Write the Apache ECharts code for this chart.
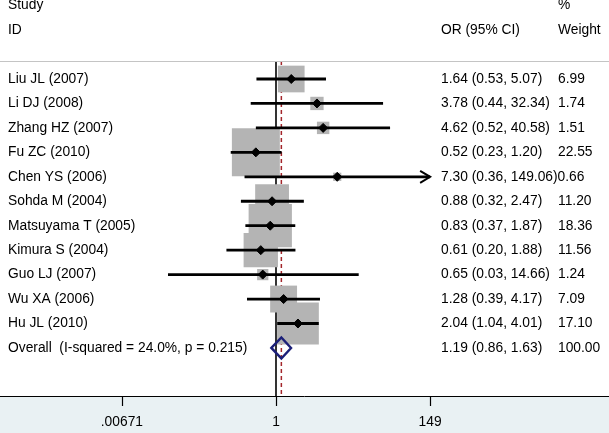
<!DOCTYPE html>
<html>
<head>
<meta charset="utf-8">
<script src="https://cdn.jsdelivr.net/npm/echarts@6/dist/echarts.min.js"></script>
<style>html,body{margin:0;padding:0;background:#fff}#c{width:609px;height:433px}</style>
</head>
<body>
<div id="c"></div>
<script>
// ---- data ----
const studies = ['Liu JL (2007)','Li DJ (2008)','Zhang HZ (2007)','Fu ZC (2010)','Chen YS (2006)','Sohda M (2004)','Matsuyama T (2005)','Kimura S (2004)','Guo LJ (2007)','Wu XA (2006)','Hu JL (2010)'];
const orValues = [1.64, 3.78, 4.62, 0.52, 7.30, 0.88, 0.83, 0.61, 0.65, 1.28, 2.04];
const ciLower  = [0.53, 0.44, 0.52, 0.23, 0.36, 0.32, 0.37, 0.20, 0.03, 0.39, 1.04];
const ciUpper  = [5.07, 32.34, 40.58, 1.20, 149.06, 2.47, 1.87, 1.88, 14.66, 4.17, 4.01];
const weights  = [6.99, 1.74, 1.51, 22.55, 0.66, 11.20, 18.36, 11.56, 1.24, 7.09, 17.10];
const overallLabel = 'Overall  (I-squared = 24.0%, p = 0.215)';
const overallOR = 1.19, overallLower = 0.86, overallUpper = 1.63, overallWeight = 100.00;
const tickValues = [0.00671, 1, 149];
const tickLabels = ['.00671', '1', '149'];
const headerLeft = ['Study', 'ID'];
const headerCI = 'OR (95% CI)';
const headerWeight = ['%', 'Weight'];

// ---- layout ----
const FONT = '"Liberation Sans", Arial, sans-serif';
const FS = 13.8;
const W = 609;
const X_ONE = 276, PX_PER_LN = 30.8;
const X_MIN = -X_ONE / PX_PER_LN, X_MAX = (W - X_ONE) / PX_PER_LN;
const ROW0 = 79, ROW_H = 24.45, AXIS_Y = 396;
const Y_MIN = -ROW0 / ROW_H, Y_MAX = (AXIS_Y - ROW0) / ROW_H;
const SEP_ROW = -0.74;
const COL = {name: 8, ci: 441, wt: 558};
const BOX_K = 10.1;
const CLIP_HI = Math.log(tickValues[tickValues.length - 1]);

const ln = Math.log;
const fmt = v => v.toFixed(2);
const ciText = i => fmt(orValues[i]) + ' (' + fmt(ciLower[i]) + ', ' + fmt(ciUpper[i]) + ')';
const overallRow = studies.length;

const mctx = document.createElement('canvas').getContext('2d');
mctx.font = FS + 'px ' + FONT;
const tw = s => mctx.measureText(s).width;

// text items
const texts = [];
texts.push({row: -3, col: 'name', t: headerLeft[0]});
texts.push({row: -2, col: 'name', t: headerLeft[1]});
texts.push({row: -2, col: 'ci', t: headerCI});
texts.push({row: -3, col: 'wt', t: headerWeight[0]});
texts.push({row: -2, col: 'wt', t: headerWeight[1]});
studies.forEach((s, i) => {
  const c = ciText(i);
  texts.push({row: i, col: 'name', t: s});
  texts.push({row: i, col: 'ci', t: c});
  const ciEnd = COL.ci + tw(c);
  texts.push({row: i, x: (ciEnd + 8 > COL.wt) ? ciEnd : COL.wt, t: fmt(weights[i])});
});
const oc = fmt(overallOR) + ' (' + fmt(overallLower) + ', ' + fmt(overallUpper) + ')';
texts.push({row: overallRow, col: 'name', t: overallLabel});
texts.push({row: overallRow, col: 'ci', t: oc});
texts.push({row: overallRow, col: 'wt', t: fmt(overallWeight)});

const chart = echarts.init(document.getElementById('c'), null, {renderer: 'canvas'});

const option = {
  animation: false,
  backgroundColor: '#e9f1f3',
  grid: {left: 0, right: 0, top: 0, bottom: 433 - AXIS_Y, show: true, backgroundColor: '#ffffff', borderWidth: 0},
  xAxis: {
    type: 'value', min: X_MIN, max: X_MAX,
    axisLine: {show: true, onZero: false, lineStyle: {color: '#000', width: 1}},
    axisTick: {show: true, length: 10, lineStyle: {color: '#000', width: 1.2}, customValues: tickValues.map(ln)},
    axisLabel: {
      customValues: tickValues.map(ln), margin: 19, color: '#000', fontSize: FS, fontFamily: FONT,
      formatter: v => {
        let best = 0;
        tickValues.forEach((t, i) => { if (Math.abs(ln(t) - v) < Math.abs(ln(tickValues[best]) - v)) best = i; });
        return tickLabels[best];
      }
    },
    splitLine: {show: false}
  },
  yAxis: {type: 'value', inverse: true, min: Y_MIN, max: Y_MAX, show: false},
  series: [
    {
      type: 'line', data: [], silent: true,
      markLine: {silent: true, symbol: 'none', label: {show: false},
        lineStyle: {color: '#c4c4c4', width: 1.2, type: 'solid'},
        data: [{yAxis: SEP_ROW}]}
    },
    {
      type: 'line', z: 1, symbol: 'none', silent: true,
      lineStyle: {color: '#000', width: 1.6},
      data: [[ln(1), SEP_ROW], [ln(1), Y_MAX]]
    },
    {
      type: 'line', z: 1, symbol: 'none', silent: true,
      lineStyle: {color: '#a3262b', width: 1.5, type: [4, 3]},
      data: [[ln(overallOR), SEP_ROW], [ln(overallOR), Y_MAX]]
    },
    {
      type: 'custom', z: 2, silent: true,
      data: studies.map((s, i) => [ln(orValues[i]), i, weights[i]]),
      renderItem: (params, api) => {
        const c = api.coord([api.value(0), api.value(1)]);
        const side = BOX_K * Math.sqrt(api.value(2));
        return {type: 'rect', shape: {x: c[0] - side / 2, y: c[1] - side / 2, width: side, height: side},
          style: {fill: '#b4b4b4'}};
      }
    },
    {
      type: 'custom', z: 3, silent: true,
      data: studies.map((s, i) => [ln(orValues[i]), i, ln(ciLower[i]), ln(ciUpper[i])]),
      renderItem: (params, api) => {
        const row = api.value(1);
        const hi = api.value(3);
        const clipped = hi > CLIP_HI;
        const p = api.coord([api.value(0), row]);
        const a = api.coord([api.value(2), row]);
        const b = api.coord([clipped ? CLIP_HI : hi, row]);
        const children = [
          {type: 'line', shape: {x1: a[0], y1: a[1], x2: b[0], y2: b[1]}, style: {stroke: '#000', lineWidth: 2.8}},
          {type: 'polygon', shape: {points: [[p[0] - 4.5, p[1]], [p[0], p[1] - 4.5], [p[0] + 4.5, p[1]], [p[0], p[1] + 4.5]]}, style: {fill: '#000', stroke: '#000', lineWidth: 1}}
        ];
        if (clipped) {
          children.push({type: 'polyline', shape: {points: [[b[0] - 10, b[1] - 6], [b[0], b[1]], [b[0] - 10, b[1] + 6]]}, style: {stroke: '#000', lineWidth: 2, fill: null}});
        }
        return {type: 'group', children: children};
      }
    },
    {
      type: 'custom', z: 4, silent: true,
      data: [[ln(overallOR), overallRow, ln(overallLower), ln(overallUpper)]],
      renderItem: (params, api) => {
        const row = api.value(1);
        const p = api.coord([api.value(0), row]);
        const a = api.coord([api.value(2), row]);
        const b = api.coord([api.value(3), row]);
        const h = 10.5;
        return {type: 'polygon', shape: {points: [[a[0], a[1]], [p[0], p[1] - h], [b[0], b[1]], [p[0], p[1] + h]]},
          style: {fill: null, stroke: '#1b1f78', lineWidth: 2.4}};
      }
    },
    {
      type: 'custom', z: 5, silent: true,
      data: texts.map(t => [X_MIN, t.row]),
      renderItem: (params, api) => {
        const t = texts[params.dataIndex];
        const c = api.coord([api.value(0), api.value(1)]);
        const x = t.x !== undefined ? t.x : COL[t.col];
        return {type: 'text', x: x, y: c[1],
          style: {text: t.t, fill: '#000', font: FS + 'px ' + FONT, textAlign: 'left', textVerticalAlign: 'middle'}};
      }
    }
  ]
};
chart.setOption(option);
</script>
</body>
</html>
